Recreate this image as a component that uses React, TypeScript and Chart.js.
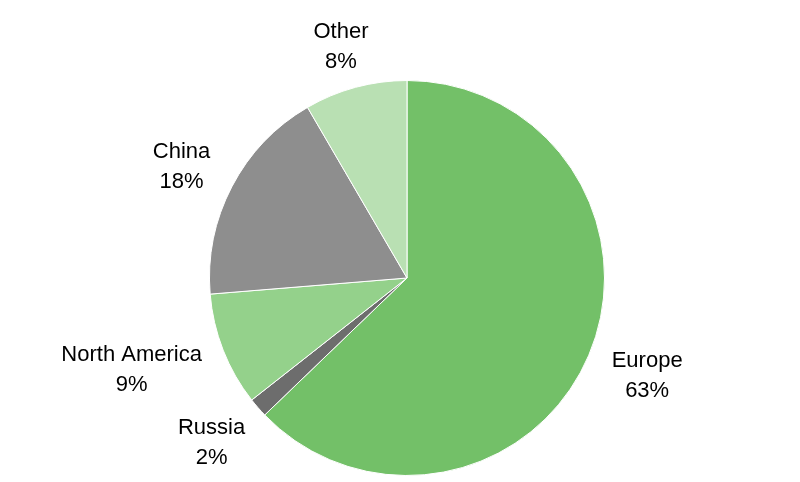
import React, { useEffect, useRef } from "react";
import { Chart, registerables } from "chart.js";

Chart.register(...registerables);

const categories = ["Europe", "Russia", "North America", "China", "Other"];
const shares = [62.8, 1.6, 9.3, 17.9, 8.4];
const colors = ["#73C068", "#6D6D6D", "#94D18B", "#8E8E8E", "#B9E0B3"];

const labelPlugin = {
  id: "outsideLabels",
  afterDatasetsDraw(chart: any) {
    const { ctx } = chart;
    const meta = chart.getDatasetMeta(0);
    ctx.save();
    ctx.font = "22px 'Liberation Sans', Arial, sans-serif";
    ctx.fillStyle = "#000";
    ctx.textAlign = "center";
    ctx.textBaseline = "middle";
    const lineH = 30;
    meta.data.forEach((arc: any, i: number) => {
      const { x, y, startAngle, endAngle, outerRadius } = arc.getProps(
        ["x", "y", "startAngle", "endAngle", "outerRadius"],
        true
      );
      const mid = (startAngle + endAngle) / 2;
      const dx = Math.cos(mid);
      const dy = Math.sin(mid);
      const lines = [categories[i], Math.round(shares[i]) + "%"];
      const w = Math.max(...lines.map((l) => ctx.measureText(l).width));
      const halfH = dy > 0 ? 26 : 14;
      const d = 28;
      const px = x + (outerRadius + d) * dx + (dx * w) / 2;
      const py = y + (outerRadius + d) * dy + dy * halfH;
      ctx.fillText(lines[0], px, py - lineH / 2);
      ctx.fillText(lines[1], px, py + lineH / 2);
    });
    ctx.restore();
  },
};

export default function App() {
  const ref = useRef<HTMLCanvasElement>(null);
  useEffect(() => {
    if (!ref.current) return;
    const chart = new Chart(ref.current, {
      type: "pie",
      data: {
        labels: categories,
        datasets: [
          {
            data: shares,
            backgroundColor: colors,
            borderColor: "#ffffff",
            borderWidth: 1,
          },
        ],
      },
      options: {
        animation: false,
        responsive: false,
        maintainAspectRatio: false,
        layout: { padding: { top: 80, bottom: 6, left: 209, right: 195 } },
        plugins: {
          legend: { display: false },
          tooltip: { enabled: false },
        },
      },
      plugins: [labelPlugin],
    });
    return () => chart.destroy();
  }, []);
  return (
    <div style={{ position: "fixed", left: 0, top: 0, width: 800, height: 482, background: "#fff" }}>
      <canvas ref={ref} width={800} height={482} style={{ width: 800, height: 482 }} />
    </div>
  );
}
